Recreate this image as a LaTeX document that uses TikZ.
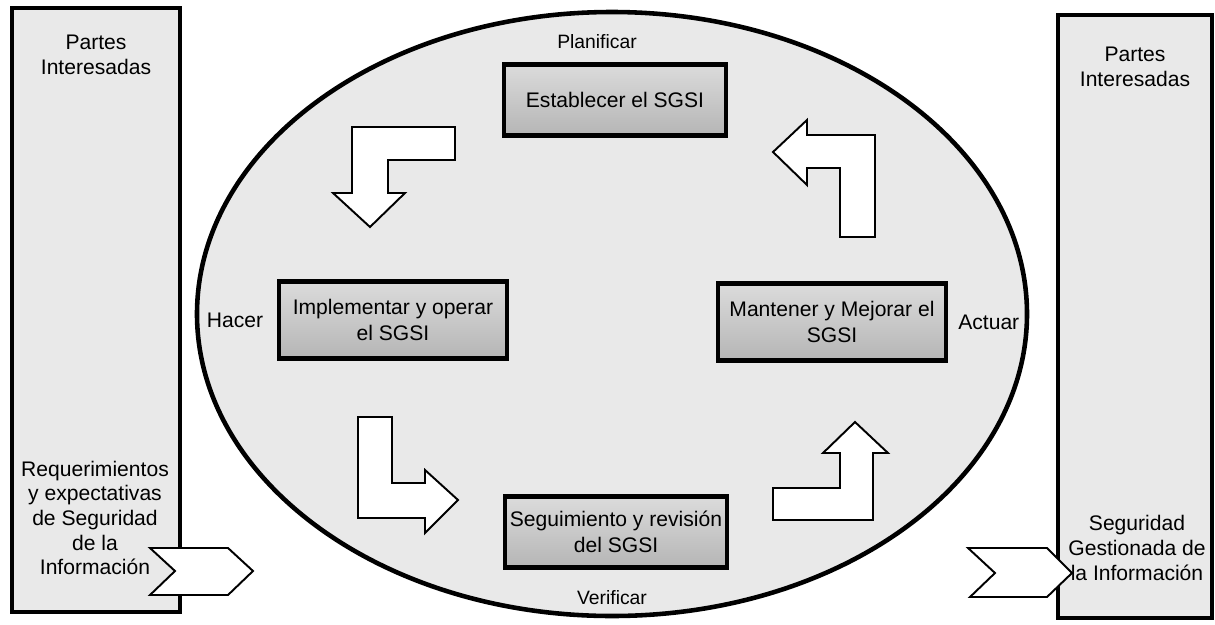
\documentclass[tikz,border=0pt]{standalone}
\usepackage{fontspec}
\setmainfont{Liberation Sans}
\usetikzlibrary{positioning}

\tikzset{
  panel/.style={draw=black,line width=2.6pt,fill=gray!17},
  stage/.style={draw=black,line width=2.8pt,top color=gray!28,bottom color=gray!58,
    minimum width=44.4mm,minimum height=14.2mm,inner sep=1pt,align=center,
    font=\fontsize{12}{14.5}\selectfont},
  widestage/.style={stage,minimum width=45.6mm,minimum height=15.4mm},
  bigarrow/.style={draw=black,line width=1.1pt,fill=white,line join=miter},
  paneltext/.style={align=center,font=\fontsize{12}{14}\selectfont,inner sep=0pt},
  phase/.style={font=\fontsize{11}{13}\selectfont,inner sep=0pt},
  sidephase/.style={phase,font=\fontsize{12}{14}\selectfont}
}

\begin{document}
\begin{tikzpicture}[x=0.2mm,y=-0.2mm]
\useasboundingbox (0,0) rectangle (1215,624);
\fill[white] (0,0) rectangle (1215,624);
% side panels
\draw[panel] (12,8) rectangle (180,612);
\draw[panel] (1058,15) rectangle (1212,618);
% cycle
\draw[panel] (612,314) ellipse [x radius=415,y radius=302];
\node[stage] (est) at (615,100) {Establecer el SGSI};
\node[widestage] (imp) at (393,320) {Implementar y operar\\el SGSI};
\node[widestage] (man) at (832,322) {Mantener y Mejorar el\\SGSI};
\node[stage] (seg) at (616,532) {Seguimiento y revisión\\del SGSI};
% phase names
\node[phase] (plan) at (597,42) {Planificar};
\node[phase] (verif) at (612,598) {Verificar};
\node[sidephase,left=2.6mm of imp] (hacer) {Hacer};
\node[sidephase,right=1.9mm of man] (actuar) {Actuar};
% bent arrows
\draw[bigarrow] (455,127) -- (352,127) -- (352,193) -- (333,193) -- (370,227)
  -- (405,193) -- (388,193) -- (388,160) -- (455,160) -- cycle;
\draw[bigarrow] (358,417) -- (358,518) -- (425,518) -- (425,533) -- (458,500)
  -- (425,470) -- (425,483) -- (392,483) -- (392,417) -- cycle;
\draw[bigarrow] (773,488) -- (773,520) -- (873,520) -- (873,453) -- (888,453)
  -- (855,422) -- (823,453) -- (840,453) -- (840,488) -- cycle;
\draw[bigarrow] (875,237) -- (875,135) -- (807,135) -- (807,120) -- (773,152)
  -- (807,185) -- (807,168) -- (840,168) -- (840,237) -- cycle;
% input / output chevrons
\draw[bigarrow] (150,548) -- (228,548) -- (253,571) -- (228,595) -- (150,595)
  -- (175,571) -- cycle;
\draw[bigarrow] (968,548) -- (1047,548) -- (1072,573) -- (1047,597) -- (970,597)
  -- (995,573) -- cycle;
% panel texts
\node[paneltext] (lpi) at (96,55) {Partes\\Interesadas};
\node[paneltext] (req) at (95,518) {Requerimientos\\y expectativas\\de Seguridad\\de la\\Información};
\node[paneltext] (rpi) at (1135,67) {Partes\\Interesadas};
\node[paneltext] (sgi) at (1137,548) {Seguridad\\Gestionada de\\la Información};
\end{tikzpicture}
\end{document}
